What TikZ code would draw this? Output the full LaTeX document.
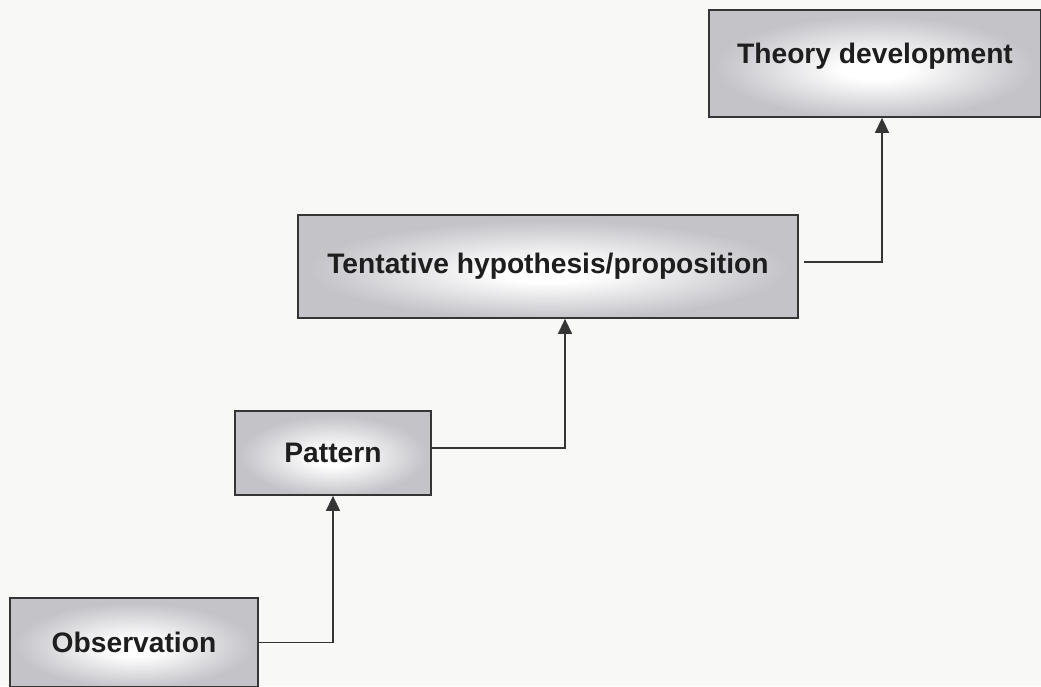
\documentclass[tikz,border=0pt]{standalone}
\usepackage{fontspec}
\setmainfont{Liberation Sans}
\usetikzlibrary{arrows.meta}
\definecolor{boxgray}{HTML}{C3C3C8}
\definecolor{edgecol}{HTML}{353535}
\definecolor{bgcol}{HTML}{F8F8F7}
\definecolor{txtcol}{HTML}{1E1E1E}
\pgfdeclareradialshading{glow}{\pgfpoint{0bp}{-3bp}}{color(0bp)=(white); color(5bp)=(white); color(24bp)=(boxgray); color(50bp)=(boxgray)}
\tikzset{
  stagebox/.style={draw=edgecol, line width=1.8pt, shade, shading=glow,
    text=txtcol, font=\fontsize{28.2}{34}\selectfont\bfseries, inner sep=0pt},
  link/.style={draw=edgecol, line width=1.5pt, -{Triangle[width=14pt,length=15pt]}}
}
\begin{document}
\begin{tikzpicture}[x=1pt,y=1pt]
\fill[bgcol] (0,0) rectangle (1041,686);
\useasboundingbox (0,0) rectangle (1041,686);
\node[stagebox, minimum width=248pt, minimum height=89pt] (obs) at (134,43.5) {Observation};
\node[stagebox, minimum width=196pt, minimum height=84pt] (pat) at (333,233) {Pattern};
\node[stagebox, minimum width=500pt, minimum height=103pt] (tent) at (548,419.5) {Tentative hypothesis/proposition};
\node[stagebox, minimum width=332pt, minimum height=107pt, text depth=21pt] (theo) at (875,622.5) {Theory development};
\draw[link] (obs.east) -| (pat.south);
\draw[link] ([yshift=5pt]pat.east) -| ([xshift=17pt]tent.south);
\draw[link, shorten <=5pt] ([yshift=4.5pt]tent.east) -| ([xshift=7pt]theo.south);
\end{tikzpicture}
\end{document}
